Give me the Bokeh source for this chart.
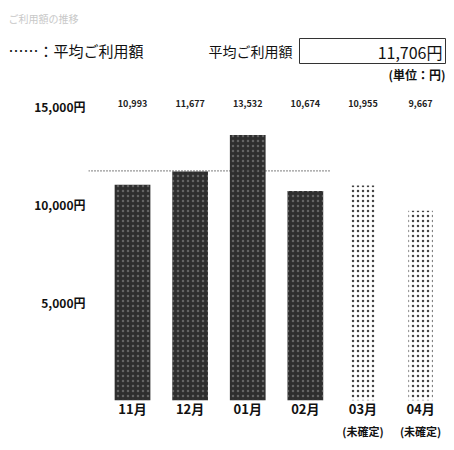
from bokeh.plotting import figure
from bokeh.models import FixedTicker, LinearAxis, Range1d
from bokeh.layouts import column
from bokeh.core.properties import value
from bokeh.embed import file_html
from bokeh.resources import INLINE

months = ["11月", "12月", "01月", "02月", "03月", "04月"]
sub_labels = ["", "", "", "", "(未確定)", "(未確定)"]
values = [10993, 11677, 13532, 10674, 10955, 9667]
value_labels = ["10,993", "11,677", "13,532", "10,674", "10,955", "9,667"]
confirmed = [True, True, True, True, False, False]
average = 11706
average_label = "11,706円"
legend_text = "……：平均ご利用額"
average_title = "平均ご利用額"
unit_text = "(単位：円)"
chart_title = "ご利用額の推移"
y_ticks = [5000, 10000, 15000]
y_tick_labels = {5000: "5,000円", 10000: "10,000円", 15000: "15,000円"}

FONT = "Noto Sans CJK JP"
W = 446
HH = 88     # header height
CH = 354    # chart height

# ---------------- header ----------------
h = figure(width=W, height=HH, output_backend="svg", toolbar_location=None,
           x_range=Range1d(0, W), y_range=Range1d(HH, 0),
           x_axis_location=None, y_axis_location=None,
           min_border=0, min_border_left=0, min_border_right=0, min_border_top=0, min_border_bottom=0)
h.outline_line_color = None
h.grid.visible = False
h.frame_align = False

def htext(x, y, text, size, align="left", color="#111111", style="normal"):
    h.text(x=[x], y=[y], text=[text], text_font=value(FONT), text_font_size=size,
           text_align=align, text_baseline="middle", text_color=color, text_font_style=style)

htext(8, 18, chart_title, "10px", color="#c8c8c8")
htext(8, 50, legend_text, "15px")
htext(208, 50, average_title, "14px")
h.quad(left=[299], right=[445], top=[38], bottom=[63], fill_color=None,
       line_color="#333333", line_width=1)
htext(442, 51, average_label, "16px", align="right")
htext(445, 74, unit_text, "12px", align="right", style="bold")

# ---------------- chart ----------------
p = figure(width=W, height=CH, output_backend="svg", toolbar_location=None,
           x_range=(-0.764, 5.45), y_range=(0, 15700),
           min_border_left=88, min_border_right=0, min_border_top=4, min_border_bottom=42)
p.outline_line_color = None
p.grid.visible = False
p.frame_align = False

xs = list(range(len(months)))
cx = [x for x, c in zip(xs, confirmed) if c]
cv = [v for v, c in zip(values, confirmed) if c]
ux = [x for x, c in zip(xs, confirmed) if not c]
uv = [v for v, c in zip(values, confirmed) if not c]

p.vbar(x=cx, top=cv, width=0.62, bottom=0, fill_color="#2e2e2e", line_color=None,
       hatch_pattern="dot", hatch_color="#9a9a9a", hatch_scale=5, hatch_weight=1, hatch_alpha=0.5)
p.vbar(x=ux, top=uv, width=0.42, bottom=0, fill_color="white", line_color=None,
       hatch_pattern="dot", hatch_color="#444444", hatch_scale=5, hatch_weight=1.2)

# average dotted line
p.line(x=[-0.764, 3.45], y=[average, average], line_color="#333333", line_width=1.3, line_dash="1 2")

# value labels above the chart
p.text(x=xs, y=[15150] * len(xs), text=value_labels, text_align="center", text_baseline="middle",
       text_font_size="9px", text_color="#222222", text_font=value(FONT), text_font_style="bold")

def style_axis(ax, size):
    ax.axis_line_color = None
    ax.major_tick_line_color = None
    ax.minor_tick_line_color = None
    ax.major_tick_out = 0
    ax.major_tick_in = 0
    ax.major_label_text_font = FONT
    ax.major_label_text_font_size = size
    ax.major_label_text_font_style = "bold"
    ax.major_label_text_color = "#111111"

xa = p.xaxis[0]
xa.ticker = FixedTicker(ticks=xs)
xa.major_label_overrides = {i: m for i, m in enumerate(months)}
style_axis(xa, "13px")
xa.major_label_standoff = -2

sub_ticks = [i for i, s in enumerate(sub_labels) if s]
xa2 = LinearAxis(ticker=FixedTicker(ticks=sub_ticks),
                 major_label_overrides={i: sub_labels[i] for i in sub_ticks})
style_axis(xa2, "11px")
xa2.major_label_standoff = 2
p.add_layout(xa2, "below")

ya = p.yaxis[0]
ya.ticker = FixedTicker(ticks=y_ticks)
ya.major_label_overrides = y_tick_labels
style_axis(ya, "12px")
ya.major_label_standoff = 3

open("out.html", "w").write(file_html(column(h, p), INLINE))
